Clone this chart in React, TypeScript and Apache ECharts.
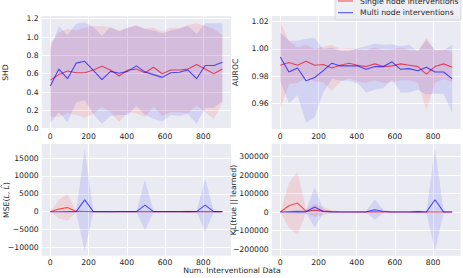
import React, { useEffect, useRef } from "react";
import * as echarts from "echarts";

const xs = [0, 45, 90, 135, 180, 225, 270, 315, 360, 405, 450, 495, 540, 585, 630, 675, 720, 765, 810, 855, 900];

// SHD
const shdSingleMean = [0.53, 0.59, 0.63, 0.61, 0.61, 0.64, 0.68, 0.64, 0.575, 0.64, 0.65, 0.61, 0.67, 0.6, 0.64, 0.64, 0.65, 0.7, 0.65, 0.6, 0.65];
const shdSingleStd = [0.4, 0.46, 0.46, 0.46, 0.49, 0.48, 0.44, 0.46, 0.5, 0.46, 0.48, 0.48, 0.43, 0.46, 0.46, 0.46, 0.48, 0.45, 0.47, 0.49, 0.37];
const shdMultiMean = [0.465, 0.65, 0.545, 0.715, 0.735, 0.635, 0.535, 0.625, 0.605, 0.625, 0.685, 0.62, 0.59, 0.56, 0.61, 0.615, 0.64, 0.545, 0.69, 0.69, 0.725];
const shdMultiStd = [0.405, 0.47, 0.475, 0.43, 0.425, 0.475, 0.48, 0.485, 0.455, 0.475, 0.435, 0.47, 0.48, 0.48, 0.46, 0.475, 0.48, 0.49, 0.46, 0.46, 0.425];

// AUROC
const aurocSingleMean = [0.988, 0.99, 0.988, 0.991, 0.988, 0.9885, 0.986, 0.988, 0.9895, 0.988, 0.987, 0.989, 0.987, 0.9875, 0.989, 0.988, 0.987, 0.9815, 0.987, 0.989, 0.9865];
const aurocSingleStd = [0.032, 0.016, 0.013, 0.012, 0.012, 0.013, 0.017, 0.012, 0.011, 0.012, 0.012, 0.012, 0.012, 0.012, 0.012, 0.011, 0.012, 0.0265, 0.012, 0.011, 0.011];
const aurocMultiMean = [0.994, 0.983, 0.986, 0.9765, 0.979, 0.984, 0.9895, 0.9875, 0.9875, 0.9875, 0.985, 0.987, 0.987, 0.9905, 0.985, 0.9855, 0.984, 0.9865, 0.983, 0.983, 0.978];
const aurocMultiStd = [0.018, 0.023, 0.02, 0.031, 0.029, 0.016, 0.0115, 0.011, 0.011, 0.013, 0.017, 0.017, 0.016, 0.013, 0.017, 0.0175, 0.014, 0.02, 0.016, 0.016, 0.025];

// MSE(L, L^)
const mseSingleMean = [0, 740, 1200, 100, 60, 40, 20, 20, 20, 20, 30, 40, 30, 20, 20, 40, 60, 20, 30, 20, 20];
const mseSingleStd = [0, 2600, 3700, 150, 150, 100, 80, 80, 80, 100, 100, 120, 100, 80, 120, 200, 400, 100, 150, 100, 80];
const mseMultiMean = [0, 10, 20, 30, 3300, 40, 20, 10, 20, 20, 30, 1850, 30, 20, 20, 20, 30, 20, 1850, 30, 20];
const mseMultiStd = [0, 50, 80, 100, 14300, 120, 80, 300, 100, 100, 120, 7000, 150, 100, 100, 100, 150, 100, 7400, 150, 100];

// KL(true || learned)
const klSingleMean = [0, 34000, 48500, 3600, 10000, 5000, 2000, 500, 300, 300, 500, 1000, 500, 300, 300, 300, 500, 300, 300, 300, 300];
const klSingleStd = [0, 120000, 170000, 10000, 35000, 22000, 8000, 2000, 1500, 1500, 3000, 4000, 3000, 1500, 1500, 1500, 2000, 1500, 1500, 1500, 1500];
const klMultiMean = [0, 1000, 2000, 1000, 27000, 3000, 500, 500, 500, 500, 1000, 12600, 3000, 500, 500, 500, 2000, 500, 66500, 1000, 500];
const klMultiStd = [0, 5000, 10000, 8000, 110000, 10000, 2000, 2000, 3000, 3000, 5000, 55000, 8000, 3000, 2000, 3000, 8000, 3000, 278000, 5000, 2000];

const X_TICKS = [0, 200, 400, 600, 800];
const SHD_TICKS = [0, 0.2, 0.4, 0.6, 0.8, 1.0, 1.2];
const AUROC_TICKS = [0.96, 0.98, 1.0, 1.02];
const MSE_TICKS = [-10000, -5000, 0, 5000, 10000, 15000];
const KL_TICKS = [-200000, -100000, 0, 100000, 200000, 300000];

const SERIES_NAMES = ["Single node interventions", "Multi node interventions"];
const AXIS_NAMES = ["SHD", "AUROC", "MSE({i|L}, {i|L})", "KL(true || learned)"];
const X_NAME = "Num. Interventional Data";

const FONT = "'DejaVu Sans', sans-serif";
const TEXT = "#262626";
const FS = 7.7;
const RED = "rgb(255,0,0)";
const BLUE = "rgb(0,0,255)";
const LINE_OP = 0.65;

const panels = [
  { sm: shdSingleMean, ss: shdSingleStd, mm: shdMultiMean, ms: shdMultiStd, min: -0.003, max: 1.229, ticks: SHD_TICKS, dec: 1 },
  { sm: aurocSingleMean, ss: aurocSingleStd, mm: aurocMultiMean, ms: aurocMultiStd, min: 0.9411, max: 1.0242, ticks: AUROC_TICKS, dec: 2 },
  { sm: mseSingleMean, ss: mseSingleStd, mm: mseMultiMean, ms: mseMultiStd, min: -12300, max: 18950, ticks: MSE_TICKS, dec: 0 },
  { sm: klSingleMean, ss: klSingleStd, mm: klMultiMean, ms: klMultiStd, min: -236000, max: 367500, ticks: KL_TICKS, dec: 0 },
];

const grids = [
  { left: 41.7, top: 16, width: 189.3, height: 113 },
  { left: 271.7, top: 16, width: 189.1, height: 113 },
  { left: 41.7, top: 144, width: 189.3, height: 111.7 },
  { left: 271.7, top: 144, width: 189.1, height: 111.7 },
];

function bandSeries(p: number, mean: number[], std: number[], color: string, z: number) {
  return {
    type: "custom",
    xAxisIndex: p,
    yAxisIndex: p,
    silent: true,
    z,
    encode: { x: 0, y: [1, 2] },
    data: xs.map((x, i) => [x, mean[i] - std[i], mean[i] + std[i]]),
    renderItem: (params: any, api: any) => {
      if (params.dataIndex !== 0) return null;
      const n = xs.length;
      const top: number[][] = [];
      const bot: number[][] = [];
      for (let i = 0; i < n; i++) {
        top.push(api.coord([api.value(0, i), api.value(2, i)]));
        bot.push(api.coord([api.value(0, i), api.value(1, i)]));
      }
      return {
        type: "polygon",
        shape: { points: top.concat(bot.reverse()) },
        style: { fill: color, opacity: 0.1 },
        silent: true,
      };
    },
  };
}

function lineSeries(p: number, name: string, mean: number[], color: string, z: number) {
  return {
    type: "line",
    name,
    xAxisIndex: p,
    yAxisIndex: p,
    symbol: "none",
    z,
    data: xs.map((x, i) => [x, mean[i]]),
    lineStyle: { color, width: 1.1, opacity: LINE_OP },
    itemStyle: { color },
  };
}

const fmt = (v: number, dec: number) => (dec > 0 ? v.toFixed(dec) : String(Math.round(v))).replace("-", "\u2212");

function buildOption() {
  const series: any[] = [];
  panels.forEach((pn, p) => {
    series.push(bandSeries(p, pn.sm, pn.ss, RED, 1));
    series.push(lineSeries(p, SERIES_NAMES[0], pn.sm, RED, 2));
    series.push(bandSeries(p, pn.mm, pn.ms, BLUE, 3));
    series.push(lineSeries(p, SERIES_NAMES[1], pn.mm, BLUE, 4));
  });

  const labelStyle = { fontSize: FS, color: TEXT, fontFamily: FONT };

  const xAxis = grids.map((_, p) => ({
    type: "value",
    gridIndex: p,
    min: -45,
    max: 945,
    axisLine: { show: false },
    axisTick: { show: false, customValues: X_TICKS },
    axisLabel: { ...labelStyle, margin: 3, customValues: X_TICKS, formatter: (v: number) => fmt(v, 0) },
    splitLine: { show: true, lineStyle: { color: "#ffffff", width: 1 } },
  }));

  const yAxis = panels.map((pn, p) => ({
    type: "value",
    gridIndex: p,
    min: pn.min,
    max: pn.max,
    axisLine: { show: false },
    axisTick: { show: false, customValues: pn.ticks },
    axisLabel: { ...labelStyle, margin: 3, customValues: pn.ticks, formatter: (v: number) => fmt(v, pn.dec) },
    splitLine: { show: true, lineStyle: { color: "#ffffff", width: 1 } },
  }));

  const nameText = (text: string, x: number, y: number, rot: boolean) => ({
    type: "text",
    x,
    y,
    rotation: rot ? Math.PI / 2 : 0,
    z: 50,
    style: { text, fill: TEXT, font: `${FS}px ${FONT}`, align: "center", verticalAlign: "middle" },
  });

  // MSE label with italic L's and a hat (drawn as a tiny polyline) over the second L
  const mseLabel = {
    type: "group",
    x: 5.5,
    y: 200,
    rotation: Math.PI / 2,
    z: 50,
    children: [
      {
        type: "text",
        x: 0,
        y: 0.6,
        style: {
          text: AXIS_NAMES[2],
          fill: TEXT,
          font: `${FS}px ${FONT}`,
          align: "center",
          verticalAlign: "middle",
          rich: { i: { fontStyle: "italic", fontSize: FS, fontFamily: FONT, fill: TEXT } },
        },
      },
      {
        type: "polyline",
        shape: { points: [[12.2, -3.4], [13.7, -4.8], [15.2, -3.4]] },
        style: { stroke: TEXT, lineWidth: 0.6, fill: "none" },
      },
    ],
  };

  const graphic: any[] = [
    nameText(AXIS_NAMES[0], 5.5, 72.5, true),
    nameText(AXIS_NAMES[1], 235.5, 72.5, true),
    mseLabel,
    nameText(AXIS_NAMES[3], 233.5, 200, true),
    nameText(X_NAME, 232, 270.5, false),
    {
      type: "rect",
      z: 100,
      shape: { x: 335, y: -10, width: 126, height: 30, r: 2 },
      style: { fill: "rgba(234,234,242,0.8)", stroke: "rgba(204,204,204,0.8)", lineWidth: 0.8 },
    },
    { type: "line", z: 101, shape: { x1: 338, y1: 1, x2: 353, y2: 1 }, style: { stroke: RED, lineWidth: 1.1, opacity: LINE_OP } },
    { type: "line", z: 101, shape: { x1: 338, y1: 12.7, x2: 353, y2: 12.7 }, style: { stroke: BLUE, lineWidth: 1.1, opacity: LINE_OP } },
    { type: "text", z: 101, x: 360, y: 1, style: { text: SERIES_NAMES[0], fill: TEXT, font: `${FS}px ${FONT}`, verticalAlign: "middle" } },
    { type: "text", z: 101, x: 360, y: 12.7, style: { text: SERIES_NAMES[1], fill: TEXT, font: `${FS}px ${FONT}`, verticalAlign: "middle" } },
  ];

  return {
    animation: false,
    backgroundColor: "#ffffff",
    grid: grids.map((g) => ({ ...g, show: true, backgroundColor: "#EAEAF2", borderWidth: 0, containLabel: false })),
    xAxis,
    yAxis,
    series,
    graphic,
  };
}

export default function App() {
  const ref = useRef<HTMLDivElement>(null);
  useEffect(() => {
    document.body.style.margin = "0";
    const chart = echarts.init(ref.current as HTMLDivElement, null, { renderer: "svg" });
    chart.setOption(buildOption() as any);
    return () => chart.dispose();
  }, []);
  return <div ref={ref} style={{ width: 463, height: 278 }} />;
}
